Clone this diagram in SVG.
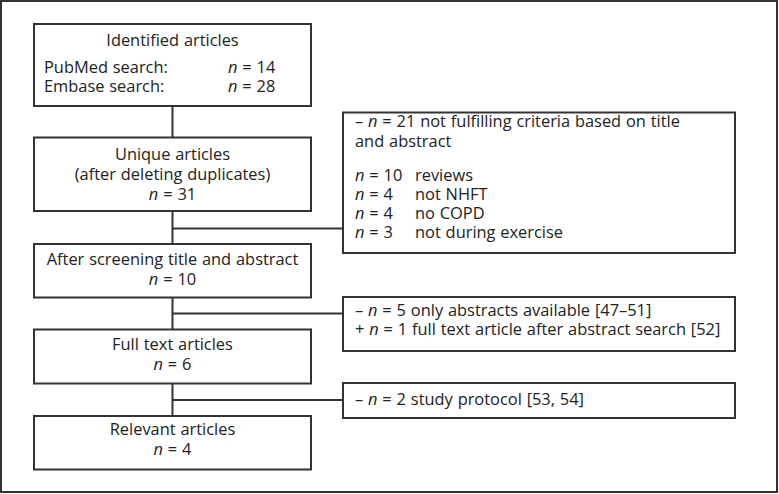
<svg xmlns="http://www.w3.org/2000/svg" width="779" height="494" viewBox="0 0 779 494">
<style>
.box{fill:#fff;stroke:#333;stroke-width:2}
.ln{fill:none;stroke:#333;stroke-width:2}
text{font-family:"Open Sans","Noto Sans","DejaVu Sans",sans-serif;font-size:16.4px;word-spacing:0.6px;fill:#222}
.c{text-anchor:middle}
.i{font-style:italic}
</style>
<rect x="1" y="1" width="776" height="491" fill="#fff" stroke="#333" stroke-width="2"/>
<g id="connectors">
<line class="ln" x1="172.5" y1="106" x2="172.5" y2="137"/>
<line class="ln" x1="172.5" y1="211" x2="172.5" y2="244"/>
<line class="ln" x1="172.5" y1="228.5" x2="343" y2="228.5"/>
<line class="ln" x1="172.5" y1="297" x2="172.5" y2="329"/>
<line class="ln" x1="172.5" y1="313.5" x2="343" y2="313.5"/>
<line class="ln" x1="172.5" y1="383" x2="172.5" y2="416"/>
<line class="ln" x1="172.5" y1="400" x2="343" y2="400"/>
</g>
<g id="identified">
<rect class="box" x="34" y="24" width="277" height="82"/>
<text class="c" x="172.5" y="46">Identified articles</text>
<text><tspan x="44" y="73">PubMed search:</tspan><tspan x="228" y="73" class="i">n</tspan><tspan> = 14</tspan><tspan x="44" y="92">Embase search:</tspan><tspan x="228" y="92" class="i">n</tspan><tspan> = 28</tspan></text>
</g>
<g id="unique">
<rect class="box" x="34" y="137.5" width="277" height="73.5"/>
<text class="c"><tspan x="172.5" y="160">Unique articles</tspan><tspan x="172.5" y="180">(after deleting duplicates)</tspan><tspan x="172.5" y="199.5" class="i">n</tspan><tspan> = 31</tspan></text>
</g>
<g id="screening">
<rect class="box" x="34" y="244" width="277" height="53.5"/>
<text class="c"><tspan x="172.5" y="265">After screening title and abstract</tspan><tspan x="172.5" y="285" class="i">n</tspan><tspan> = 10</tspan></text>
</g>
<g id="fulltext">
<rect class="box" x="34" y="329.5" width="277" height="54"/>
<text class="c"><tspan x="172.5" y="349.5">Full text articles</tspan><tspan x="172.5" y="369.5" class="i">n</tspan><tspan> = 6</tspan></text>
</g>
<g id="relevant">
<rect class="box" x="34" y="416" width="277" height="53.5"/>
<text class="c"><tspan x="172.5" y="435">Relevant articles</tspan><tspan x="172.5" y="455" class="i">n</tspan><tspan> = 4</tspan></text>
</g>
<g id="excluded1">
<rect class="box" x="343" y="112.5" width="392" height="140.5"/>
<text><tspan x="355" y="127">– </tspan><tspan class="i">n</tspan><tspan> = 21 not fulfilling criteria based on title</tspan><tspan x="355" y="147">and abstract</tspan><tspan x="355" y="181" class="i">n</tspan><tspan> = 10</tspan><tspan x="415" y="181">reviews</tspan><tspan x="355" y="200" class="i">n</tspan><tspan> = 4</tspan><tspan x="415" y="200">not NHFT</tspan><tspan x="355" y="219" class="i">n</tspan><tspan> = 4</tspan><tspan x="415" y="219">no COPD</tspan><tspan x="355" y="238" class="i">n</tspan><tspan> = 3</tspan><tspan x="415" y="238">not during exercise</tspan></text>
</g>
<g id="excluded2">
<rect class="box" x="343" y="297" width="392" height="54"/>
<text><tspan x="355" y="316">– </tspan><tspan class="i">n</tspan><tspan> = 5 only abstracts available [47–51]</tspan><tspan x="355" y="335">+ </tspan><tspan class="i">n</tspan><tspan> = 1 full text article after abstract search [52]</tspan></text>
</g>
<g id="excluded3">
<rect class="box" x="343" y="383" width="392" height="35"/>
<text x="355" y="405">– <tspan class="i">n</tspan> = 2 study protocol [53, 54]</text>
</g>
</svg>
